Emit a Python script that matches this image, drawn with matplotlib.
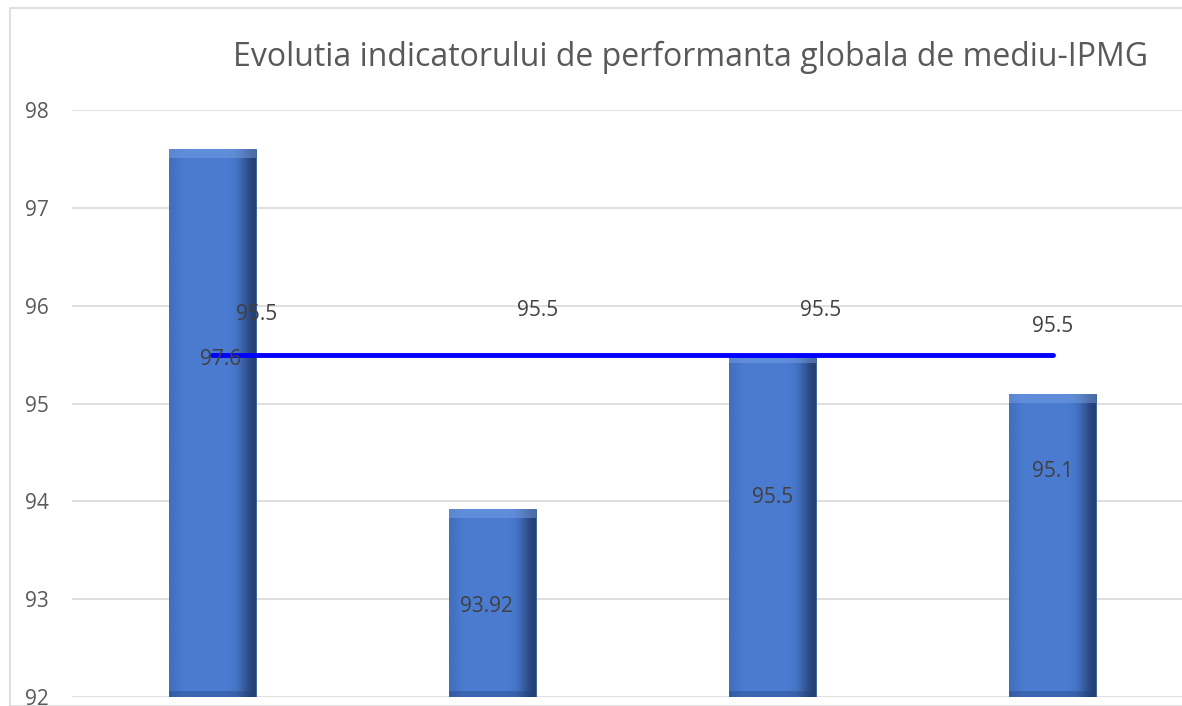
import matplotlib
matplotlib.use("Agg")
import matplotlib.pyplot as plt
import numpy as np
from matplotlib.patches import Rectangle

TITLE = "Evolutia indicatorului de performanta globala de mediu-IPMG"
categories = ["1", "2", "3", "4"]
ipmg_values = [97.6, 93.92, 95.5, 95.1]
ipmg_labels = ["97.6", "93.92", "95.5", "95.1"]
target_values = [95.5, 95.5, 95.5, 95.5]
target_labels = ["95.5", "95.5", "95.5", "95.5"]
yticks = [92, 93, 94, 95, 96, 97, 98]

# label placement (Excel put these oddly)
bar_label_y = [95.45, 92.92, 94.04, 94.3]
bar_label_dx = [0.03, -0.02, 0.0, 0.0]
line_label_y = [95.91, 95.95, 95.95, 95.79]
line_label_dx = [0.16, 0.16, 0.17, 0.0]

plt.rcParams["font.family"] = ["Open Sans", "DejaVu Sans"]

fig = plt.figure(figsize=(11.82, 7.06), dpi=100)
fig.patches.append(Rectangle((10 / 1182, 0), 1.2, 698 / 706, transform=fig.transFigure,
                             fill=False, edgecolor="#d9d9d9", linewidth=1.2))
ax = fig.add_axes([72 / 1182, 9 / 706, 1121 / 1182, 587 / 706])

x = np.arange(len(categories))
bars = ax.bar(x, [v - 92 for v in ipmg_values], bottom=92, width=0.31,
              color="#4a7bd0", edgecolor="#2f5597", linewidth=0.6, zorder=2)

# bevel-ish shading across each bar
shade = np.array([[0.85, 1.0, 1.0, 1.0, 1.0, 1.0, 1.0, 1.0, 1.0, 0.9, 0.6, 0.3]])
cmap = matplotlib.colors.LinearSegmentedColormap.from_list("b", ["#14264a", "#4a7bd0"])
for b in bars:
    x0, y0, w, h = b.get_x(), b.get_y(), b.get_width(), b.get_height()
    im = ax.imshow(shade, cmap=cmap, vmin=0, vmax=1, aspect="auto",
                   extent=(x0, x0 + w, y0, y0 + h), zorder=3, interpolation="bicubic")
    im.set_clip_path(b)
    top = Rectangle((x0, y0 + h - 0.09), w, 0.09, facecolor="#7da3e6", alpha=0.45,
                    edgecolor="none", zorder=4)
    ax.add_patch(top)
    top.set_clip_path(b)
    bottom = Rectangle((x0, y0), w, 0.06, facecolor="#1f3d75", alpha=0.35,
                       edgecolor="none", zorder=4)
    ax.add_patch(bottom)
    bottom.set_clip_path(b)

ax.plot(x, target_values, color="#0000ff", linewidth=3.5, solid_capstyle="round", zorder=5)

for i in x:
    ax.text(i + bar_label_dx[i], bar_label_y[i], ipmg_labels[i], ha="center", va="center",
            fontsize=15, color="#404040", zorder=6)
    ax.text(i + line_label_dx[i], line_label_y[i], target_labels[i], ha="center", va="center",
            fontsize=15, color="#404040", zorder=6)

ax.set_xlim(-0.5, 3.5)
ax.set_ylim(92, 98)
ax.set_yticks(yticks)
ax.set_xticks([])
ax.grid(axis="y", color="#d9d9d9", linewidth=1.2, zorder=0)
ax.set_axisbelow(True)
for s in ax.spines.values():
    s.set_visible(False)
ax.tick_params(axis="y", length=0, labelsize=15, labelcolor="#595959", pad=17)

fig.text(691 / 1182, 1 - 57 / 706, TITLE, ha="center", va="center", fontsize=23,
         color="#595959")

fig.savefig("out.png", dpi=100)
